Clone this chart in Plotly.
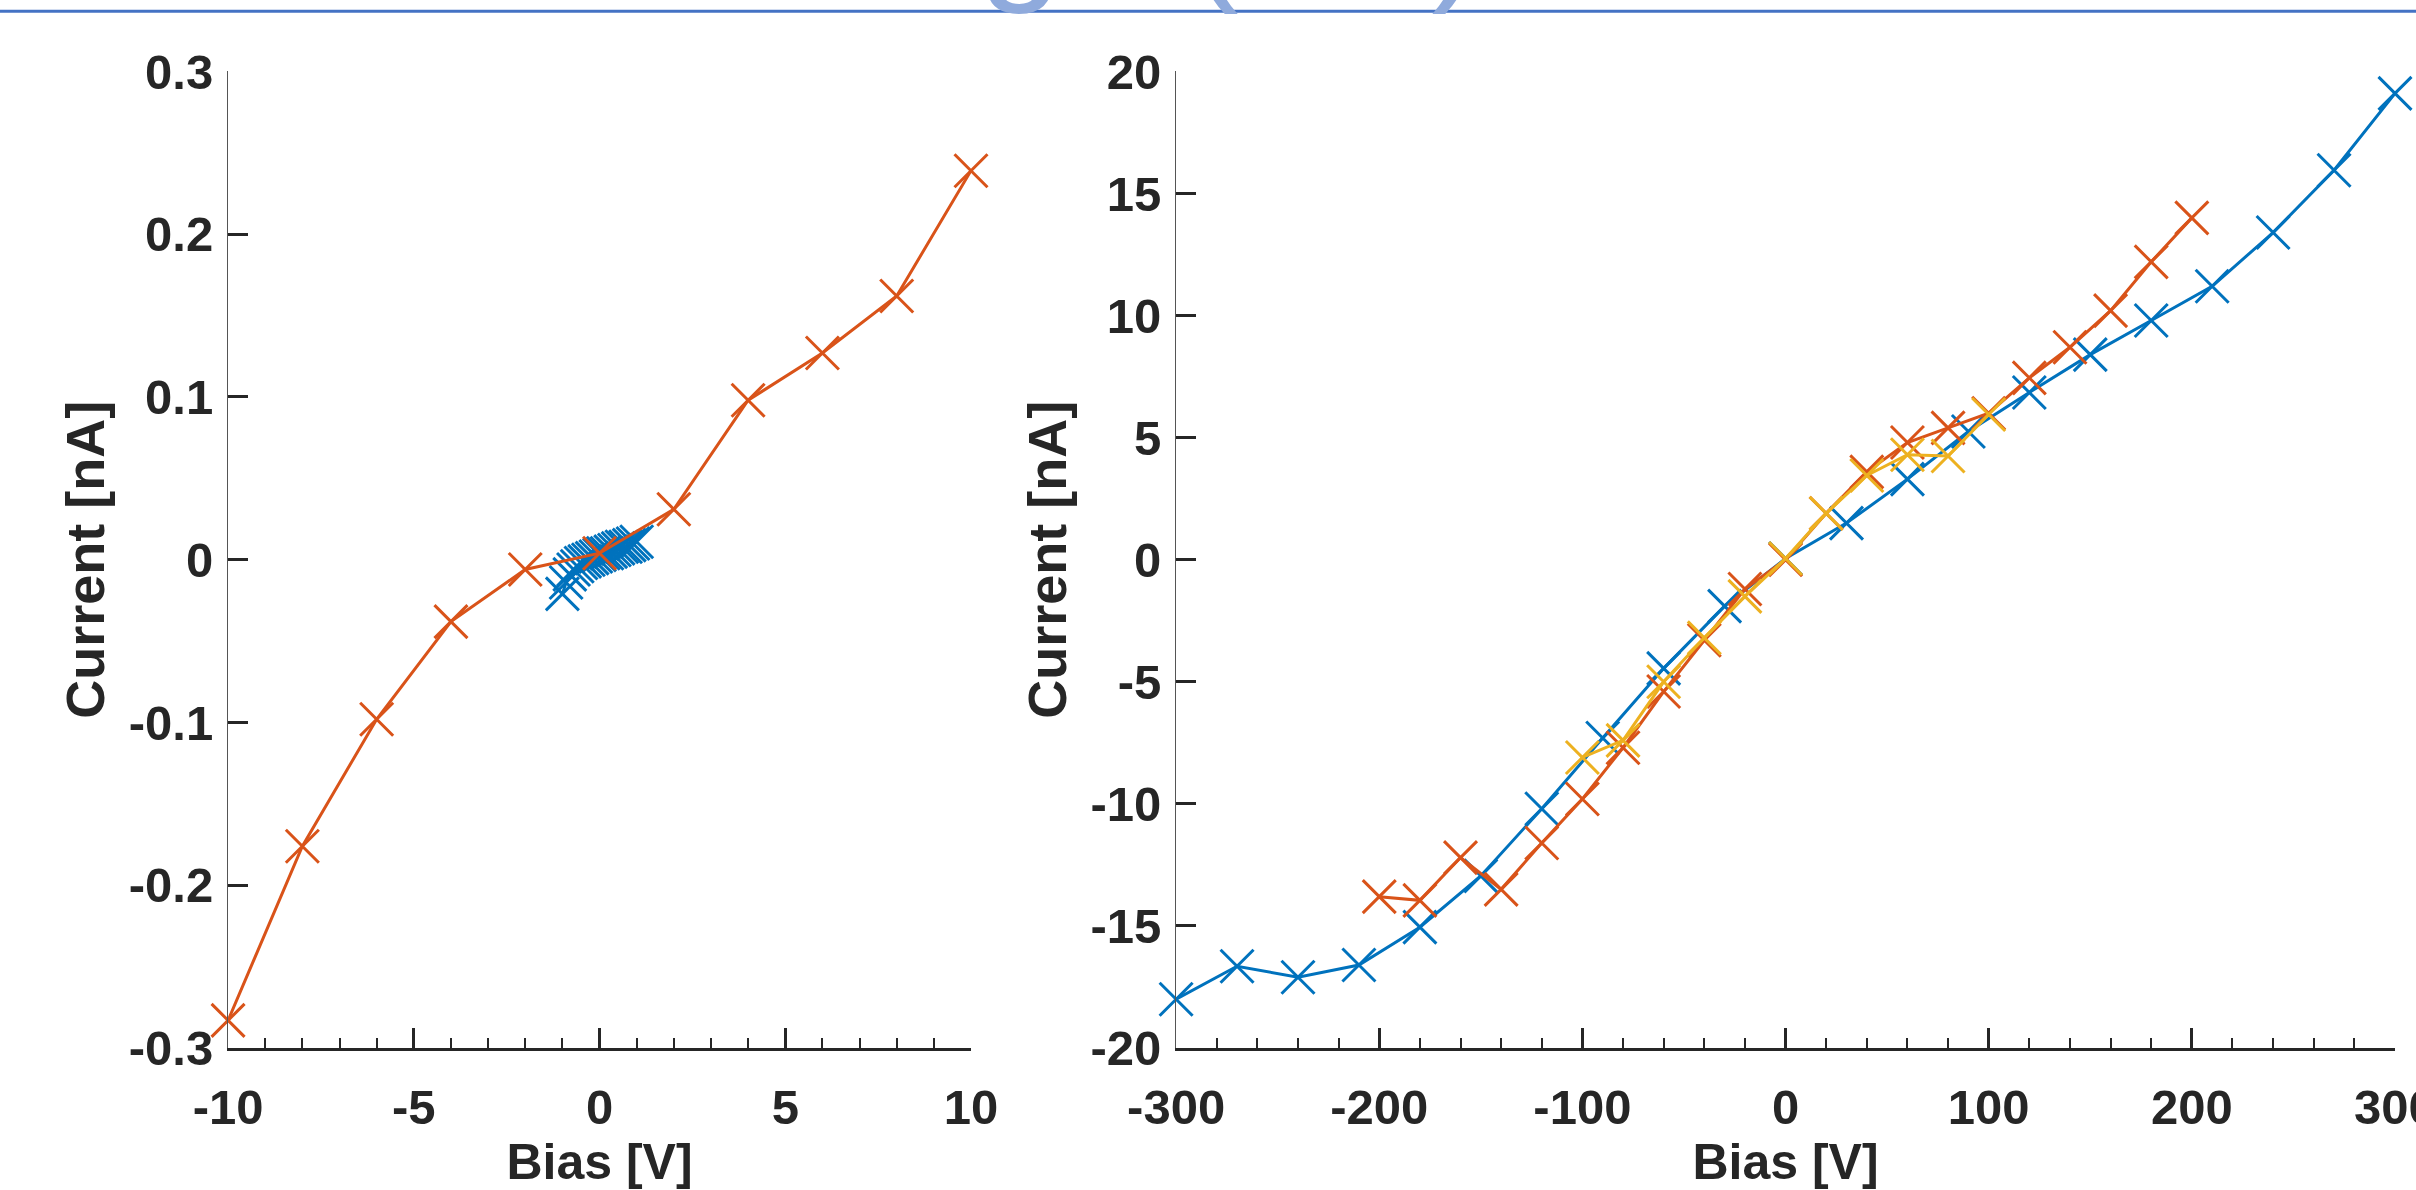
import plotly.graph_objects as go

# ---- left panel: small bias sweep ----
bias_lo_blue = [-1.0, -0.9, -0.8, -0.7, -0.6, -0.5, -0.4, -0.3, -0.2, -0.1, 0.0,
                0.1, 0.2, 0.3, 0.4, 0.5, 0.6, 0.7, 0.8, 0.9, 1.0]
current_lo_blue = [-0.021, -0.014, -0.009, -0.006, -0.004, -0.002, -0.001, 0.000, 0.001, 0.002, 0.003,
                   0.004, 0.004, 0.005, 0.006, 0.007, 0.008, 0.008, 0.009, 0.010, 0.011]

bias_lo_orange = [-10, -8, -6, -4, -2, 0, 2, 4, 6, 8, 10]
current_lo_orange = [-0.283, -0.176, -0.098, -0.038, -0.006, 0.004, 0.031, 0.098, 0.127, 0.162, 0.239]

# ---- right panel: full bias sweep ----
bias_hi_blue = [-300, -270, -240, -210, -180, -150, -120, -90, -60, -30, 0,
                30, 60, 90, 120, 150, 180, 210, 240, 270, 300]
current_hi_blue = [-18.0, -16.65, -17.1, -16.6, -15.05, -12.95, -10.2, -7.3, -4.45, -1.9, 0.05,
                   1.5, 3.3, 5.25, 6.85, 8.4, 9.8, 11.2, 13.4, 15.95, 19.1]

bias_hi_orange = [-200, -180, -160, -140, -120, -100, -80, -60, -40, -20, 0,
                  20, 40, 60, 80, 100, 120, 140, 160, 180, 200]
current_hi_orange = [-13.8, -13.95, -12.2, -13.5, -11.6, -9.8, -7.7, -5.4, -3.3, -1.2, 0.0,
                     1.9, 3.6, 4.8, 5.4, 6.0, 7.45, 8.7, 10.2, 12.2, 14.0]

bias_hi_yellow = [-100, -80, -60, -40, -20, 0, 20, 40, 60, 80, 100]
current_hi_yellow = [-8.1, -7.4, -5.0, -3.2, -1.5, 0.05, 1.9, 3.45, 4.3, 4.25, 5.95]

# tick labels
xt_lo = [-10, -5, 0, 5, 10]
xt_lo_text = ["-10", "-5", "0", "5", "10"]
yt_lo = [-0.3, -0.2, -0.1, 0, 0.1, 0.2, 0.3]
yt_lo_text = ["-0.3", "-0.2", "-0.1", "0", "0.1", "0.2", "0.3"]
xt_hi = [-300, -200, -100, 0, 100, 200, 300]
xt_hi_text = ["-300", "-200", "-100", "0", "100", "200", "300"]
yt_hi = [-20, -15, -10, -5, 0, 5, 10, 15, 20]
yt_hi_text = ["-20", "-15", "-10", "-5", "0", "5", "10", "15", "20"]

BLUE = "#0072BD"
ORANGE = "#D95319"
YELLOW = "#EDB120"
INK = "#262626"
FONT = "Liberation Sans, Arial, sans-serif"


def series(x, y, color, xa, ya):
    return go.Scatter(
        x=x, y=y, xaxis=xa, yaxis=ya, mode="lines+markers",
        line=dict(color=color, width=3),
        marker=dict(symbol="x-thin", size=33, line=dict(color=color, width=3)),
        cliponaxis=False, showlegend=False,
    )


fig = go.Figure()
fig.add_trace(series(bias_lo_blue, current_lo_blue, BLUE, "x", "y"))
fig.add_trace(series(bias_lo_orange, current_lo_orange, ORANGE, "x", "y"))
fig.add_trace(series(bias_hi_blue, current_hi_blue, BLUE, "x2", "y2"))
fig.add_trace(series(bias_hi_orange, current_hi_orange, ORANGE, "x2", "y2"))
fig.add_trace(series(bias_hi_yellow, current_hi_yellow, YELLOW, "x2", "y2"))

tickfont = dict(family=FONT, size=49, color=INK, weight="bold")


def xaxis(domain, rng, tv, tt, minor, anchor):
    return dict(
        domain=domain, range=rng, anchor=anchor, tickvals=tv, ticktext=tt,
        showgrid=False, zeroline=False, showline=True, linecolor=INK, linewidth=2.5,
        ticks="inside", ticklen=20, tickwidth=3, tickcolor=INK,
        minor=dict(dtick=minor, ticks="inside", ticklen=10, tickwidth=1.5, tickcolor=INK, showgrid=False),
        tickfont=tickfont, ticklabelstandoff=14, ticklabeloverflow="allow", automargin=False,
        title=dict(text="<b>Bias [V]</b>", font=dict(family=FONT, size=50, color=INK), standoff=22),
    )


def yaxis(rng, tv, tt, anchor):
    return dict(
        domain=[0.1193, 0.940], range=rng, anchor=anchor, tickvals=tv, ticktext=tt,
        showgrid=False, zeroline=False, showline=True, linecolor="#555555", linewidth=1.2,
        ticks="inside", ticklen=20, tickwidth=3, tickcolor=INK,
        tickfont=tickfont, ticklabelstandoff=4, ticklabeloverflow="allow", automargin=False,
        title=dict(text="<b>Current [nA]</b>", font=dict(family=FONT, size=54, color=INK), standoff=6),
    )


fig.update_layout(
    width=2416, height=1190,
    margin=dict(l=0, r=0, t=0, b=0),
    paper_bgcolor="white", plot_bgcolor="white",
    xaxis=xaxis([0.0944, 0.4019], [-10, 10], xt_lo, xt_lo_text, 1, "y"),
    yaxis=yaxis([-0.3, 0.3], yt_lo, yt_lo_text, "x"),
    xaxis2=xaxis([0.4868, 0.9913], [-300, 300], xt_hi, xt_hi_text, 20, "y2"),
    yaxis2=yaxis([-20, 20], yt_hi, yt_hi_text, "x2"),
    shapes=[dict(type="line", xref="paper", yref="paper", x0=0, x1=1, y0=0.9905, y1=0.9905,
                 line=dict(color="#4472C4", width=3))],
    annotations=[dict(text="Leakage (I-V)", xref="paper", yref="paper", x=0.2339, y=0.9857,
                      xanchor="left", yanchor="bottom", showarrow=False,
                      font=dict(family=FONT, size=151, color="#8FAADC"))],
)

fig.write_html("out.html", config={"displayModeBar": False},
               post_script="document.body.style.margin='0';document.body.style.overflow='hidden';")
